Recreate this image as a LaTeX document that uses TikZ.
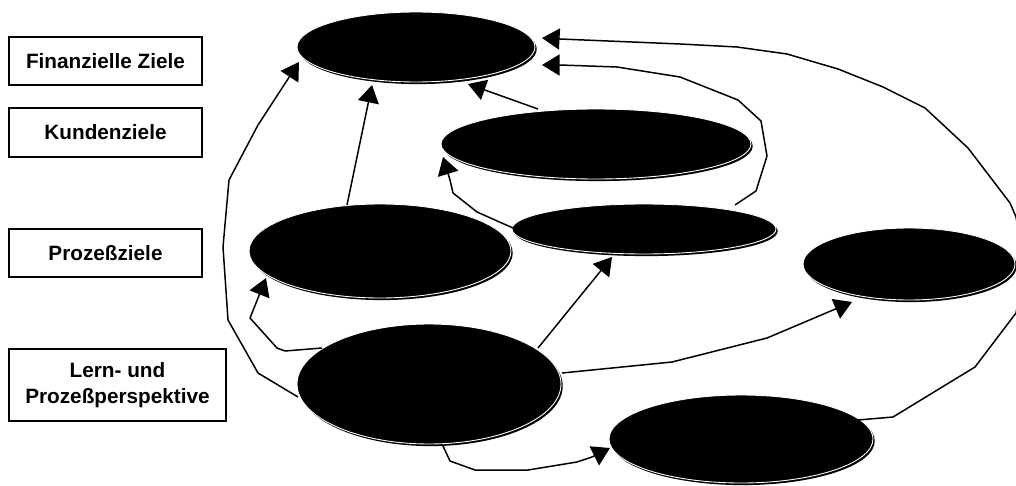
\documentclass[tikz,border=0pt]{standalone}
\usepackage{fontspec}
\setmainfont{Liberation Sans}
\usetikzlibrary{shapes.geometric,arrows.meta,shadows}
\begin{document}
\begin{tikzpicture}[x=0.02cm,y=-0.02cm,
  blob/.style={ellipse, fill=black, draw=white, line width=0.5pt, inner sep=0pt, outer sep=0pt,
    general shadow={shadow xshift=1pt, shadow yshift=-1.2pt, fill=black}},
  labelbox/.style={draw, line width=1pt, inner sep=0pt, font=\bfseries\fontsize{11.8}{15}\selectfont, align=center},
  conn/.style={line width=0.85pt, -{Triangle[length=10pt,width=12pt]}, line join=round}
]
\useasboundingbox (0,0) rectangle (1016,486);
\clip (0,0) rectangle (1016,486);

% label boxes
\node[labelbox, minimum width=3.86cm, minimum height=0.96cm] (b1) at (105.5,61) {Finanzielle Ziele};
\node[labelbox, minimum width=3.86cm, minimum height=0.98cm] (b2) at (105.5,132.5) {Kundenziele};
\node[labelbox, minimum width=3.86cm, minimum height=0.96cm] (b3) at (105.5,253) {Prozeßziele};
\node[labelbox, minimum width=4.34cm, minimum height=1.44cm] (b4) at (117.5,385) {Lern- und\\Prozeßperspektive};

% ellipses
\node[blob, minimum width=4.76cm, minimum height=1.40cm] (e1) at (416,47) {};
\node[blob, minimum width=6.20cm, minimum height=1.40cm] (e2) at (596,144) {};
\node[blob, minimum width=5.24cm, minimum height=1.88cm] (e3) at (380,251) {};
\node[blob, minimum width=5.28cm, minimum height=1.00cm] (e4) at (644,229) {};
\node[blob, minimum width=4.24cm, minimum height=1.44cm] (e5) at (909,264) {};
\node[blob, minimum width=5.28cm, minimum height=2.40cm] (e6) at (429,384) {};
\node[blob, minimum width=5.28cm, minimum height=1.76cm] (e7) at (741,439) {};

% connectors
\draw[conn] ([shift={(-131,13)}]e6.center) -- (258,373) -- (228,320) -- (223,247) -- (229,180) -- (258,125) -- ([shift={(-117,15)}]e1.center);
\draw[conn] ([shift={(-107,-36)}]e6.center) -- (285,351) -- (277,348) -- (250,318) -- ([shift={(-114,27)}]e3.center);
\draw[conn] ([shift={(-33,-46)}]e3.center) -- ([shift={(-44,38)}]e1.center);
\draw[conn] ([shift={(-58,-35)}]e2.center) -- ([shift={(52,37)}]e1.center);
\draw[conn] ([shift={(-131,-1)}]e4.center) -- (477,212) -- (453,193) -- (450,180) -- ([shift={(-153,13)}]e2.center);
\draw[conn] ([shift={(91,-24)}]e4.center) -- (756,191) -- (767,156) -- (761,121) -- (738,100) -- (680,77) -- (617,67) -- (560,65) -- ([shift={(126,18)}]e1.center);
\draw[conn] ([shift={(117,-19)}]e7.center) -- (893,417) -- (975,367) -- (1016,313) -- (1024,265) -- (1016,217) -- (1010,203) -- (968,148) -- (925,108) -- (883,87) -- (838,69) -- (787,54) -- (737,47) -- (680,44) -- (560,39) -- ([shift={(126,-9)}]e1.center);
\draw[conn] ([shift={(109,-36)}]e6.center) -- ([shift={(-32,28)}]e4.center);
\draw[conn] ([shift={(133,-11)}]e6.center) -- (672,362) -- (767,338) -- ([shift={(-57,38)}]e5.center);
\draw[conn] ([shift={(14,62)}]e6.center) -- (450,461) -- (475,470) -- (528,470) -- (577,462) -- (592,457) -- ([shift={(-131,9)}]e7.center);
\end{tikzpicture}
\end{document}
